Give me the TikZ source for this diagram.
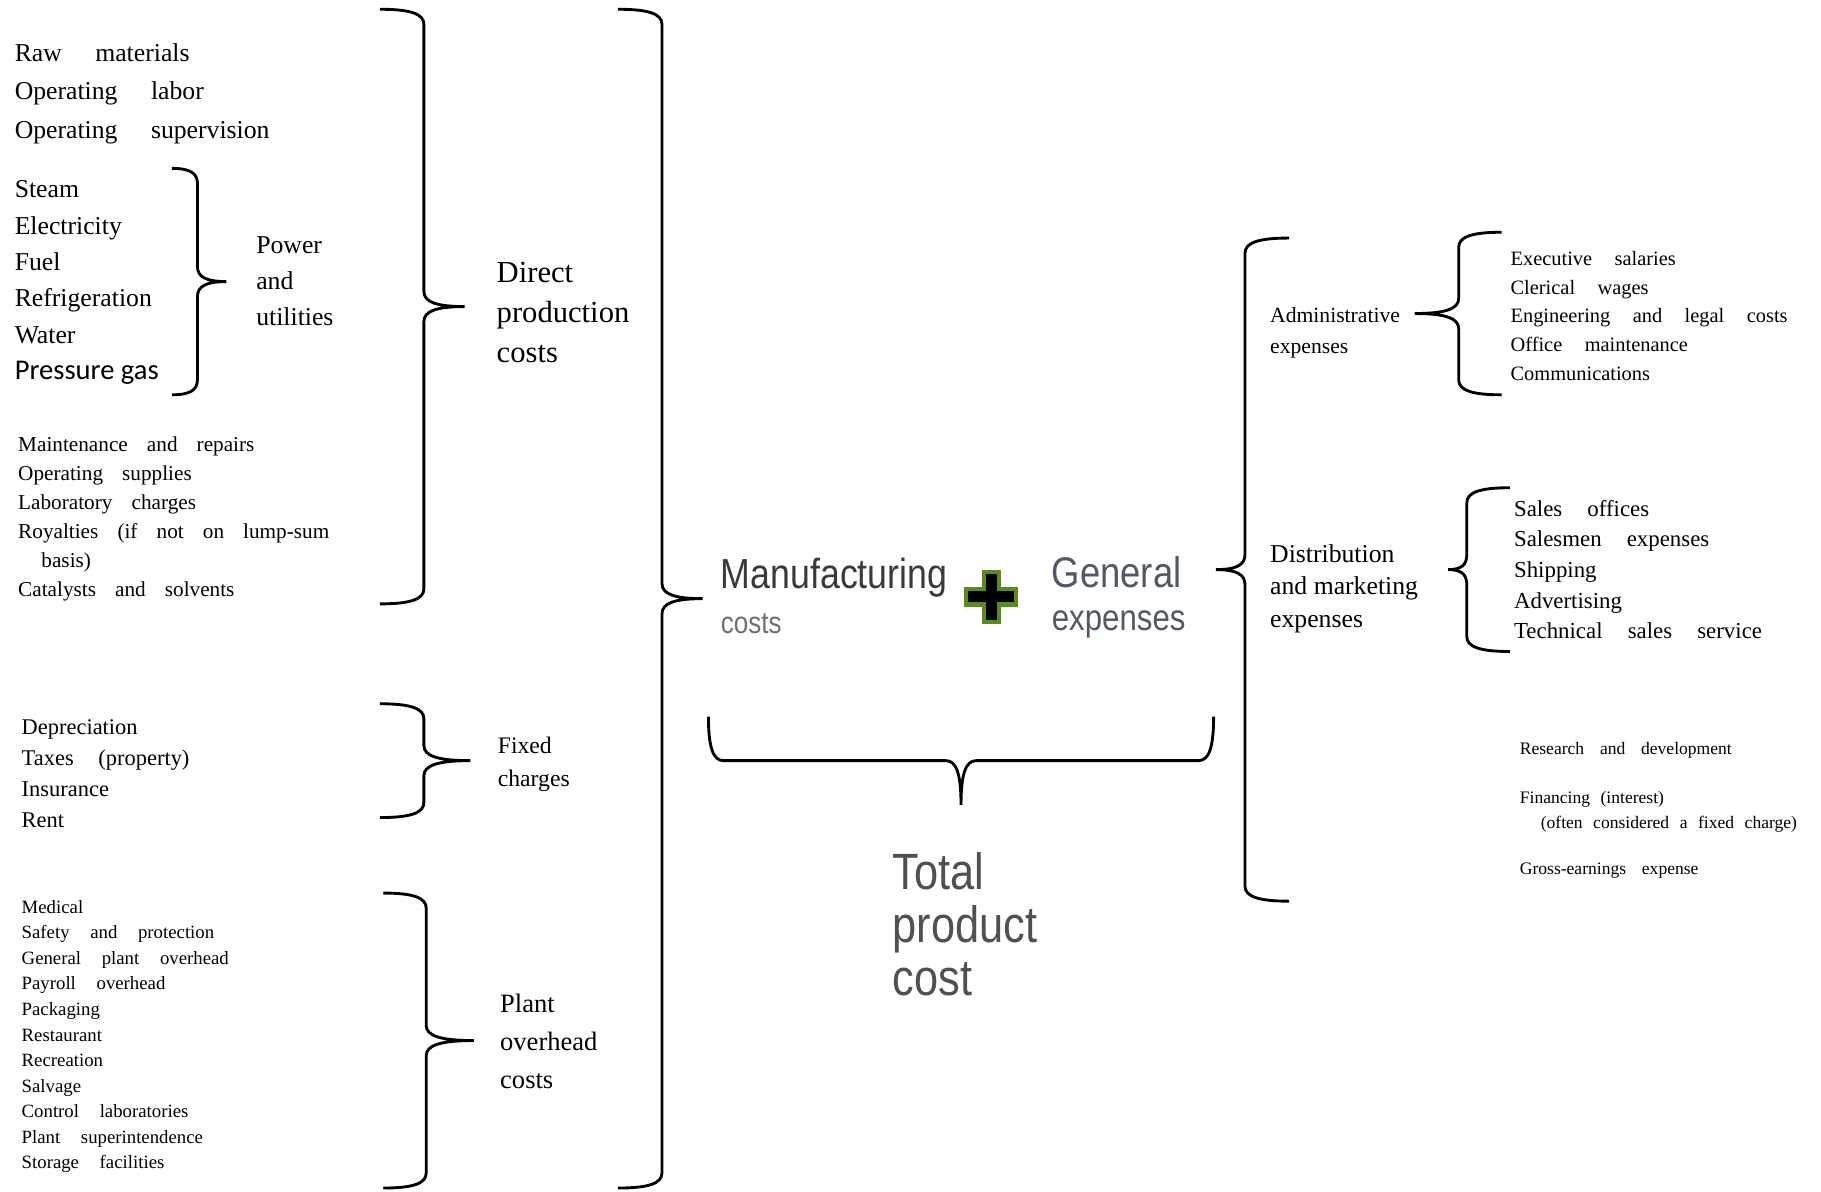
\documentclass[tikz,border=0pt]{standalone}
\usepackage{fontspec}
\setmainfont{Liberation Serif}
\newfontfamily\cali{Carlito}
\newfontfamily\narrow[FakeStretch=0.85]{Liberation Sans}
\usepackage{tikz}
\usetikzlibrary{positioning}
\definecolor{mfggray}{HTML}{3A3A3A}
\definecolor{softgray}{HTML}{707070}
\definecolor{genblue}{HTML}{4F5A66}
\definecolor{totgray}{HTML}{505050}
\definecolor{plusgreen}{HTML}{5B8A1F}
\newcommand{\lstfont}[3]{\fontsize{#1}{#2}\selectfont\spaceskip=#3em plus 0.5em\relax}

\begin{document}
\begin{tikzpicture}[
  lst/.style={anchor=north west,align=left,inner sep=0pt},
  lab/.style={anchor=north west,align=left,inner sep=0pt},
  big/.style={anchor=west,inner sep=0pt},
  brc/.style={line width=0.7pt},
  % brace drawn downwards from its upper end: length, hook width, tip width
  pics/curly/.style n args={3}{code={
    \draw[brc] (0,0) .. controls (0.7*#2,0) and (#2,-0.04) .. (#2,-0.13)
      -- (#2,-#1/2+0.13) .. controls (#2,-#1/2+0.04) and (#2+0.3*#3,-#1/2) .. (#2+#3,-#1/2)
      .. controls (#2+0.3*#3,-#1/2) and (#2,-#1/2-0.04) .. (#2,-#1/2-0.13)
      -- (#2,-#1+0.13) .. controls (#2,-#1+0.04) and (0.7*#2,-#1) .. (0,-#1);
  }}
]
  \useasboundingbox (0,0) rectangle (15.68,10.26);

  % direct production items
  \node[lst,font=\lstfont{6.3}{9.4}{1.3}] (rawlist) at (0.12,9.89)
    {Raw materials\\Operating labor\\Operating supervision};
  \node[lst,font=\lstfont{6.3}{8.9}{1.1}] (utillist) at (0.12,8.71)
    {Steam\\Electricity\\Fuel\\Refrigeration\\Water\\
     {\cali\fontsize{7}{8.9}\selectfont\spaceskip=0pt Pressure gas}};
  \node[lst,font=\lstfont{5.2}{7.1}{0.9}] (maintlist) at (0.15,6.505)
    {Maintenance and repairs\\Operating supplies\\Laboratory charges\\
     Royalties (if not on lump-sum\\\hspace*{0.2cm}basis)\\Catalysts and solvents};
  \node[lab,font=\fontsize{6.3}{8.8}\selectfont] (power) at (2.20,8.23)
    {Power\\and\\utilities};
  \node[lab,font=\fontsize{7.5}{9.7}\selectfont] (direct) at (4.27,8.005)
    {Direct\\production\\costs};

  % fixed charges
  \node[lst,font=\lstfont{5.5}{7.6}{1.1}] (fixlist) at (0.18,4.07)
    {Depreciation\\Taxes (property)\\Insurance\\Rent};
  \node[lab,font=\fontsize{5.8}{8}\selectfont] (fixed) at (4.28,3.92)
    {Fixed\\charges};

  % plant overhead
  \node[lst,font=\lstfont{4.6}{6.26}{1.1}] (ovhlist) at (0.18,2.515)
    {Medical\\Safety and protection\\General plant overhead\\Payroll overhead\\
     Packaging\\Restaurant\\Recreation\\Salvage\\Control laboratories\\
     Plant superintendence\\Storage facilities};
  \node[lab,font=\fontsize{6.5}{9.4}\selectfont] (plant) at (4.30,1.71)
    {Plant\\overhead\\costs};

  % middle
  \node[big,font=\narrow\fontsize{10.3}{12}\selectfont,text=mfggray] (mfg) at (6.20,5.29) {Manufacturing};
  \node[big,font=\narrow\fontsize{7.5}{9}\selectfont,text=softgray] (mfgc) at (6.20,4.89) {costs};
  \node[big,font=\narrow\fontsize{10.5}{12}\selectfont,text=genblue] (gen) at (9.05,5.33) {General};
  \node[big,font=\narrow\fontsize{9}{11}\selectfont,text=genblue] (genx) at (9.05,4.88) {expenses};
  \node[lab,font=\narrow\fontsize{12.5}{13.1}\selectfont,text=totgray] (total) at (7.68,2.93)
    {Total\\product\\cost};
  \filldraw[fill=black,draw=plusgreen,line width=1pt]
    (8.47,5.335) -- (8.60,5.335) -- (8.60,5.185) -- (8.75,5.185) -- (8.75,5.055)
    -- (8.60,5.055) -- (8.60,4.905) -- (8.47,4.905) -- (8.47,5.055) -- (8.32,5.055)
    -- (8.32,5.185) -- (8.47,5.185) -- cycle;

  % general expenses
  \node[lab,font=\fontsize{5.3}{7.4}\selectfont] (adm) at (10.93,7.615)
    {Administrative\\expenses};
  \node[lab,font=\fontsize{6.3}{8}\selectfont] (dist) at (10.93,5.58)
    {Distribution\\and marketing\\expenses};
  \node[lst,font=\lstfont{5}{7}{1.1}] (admlist) at (13.00,8.10)
    {Executive salaries\\Clerical wages\\Engineering and legal costs\\
     Office maintenance\\Communications};
  \node[lst,font=\lstfont{5.6}{7.5}{1.1}] (distlist) at (13.03,5.96)
    {Sales offices\\Salesmen expenses\\Shipping\\Advertising\\Technical sales service};
  \node[big,font=\lstfont{4.3}{6}{0.9}] (rd) at (13.08,3.80) {Research and development};
  \node[lst,font=\lstfont{4.3}{6}{0.6}] (fin) at (13.08,3.45)
    {Financing (interest)\\\hspace*{0.18cm}(often considered a fixed charge)};
  \node[big,font=\lstfont{4.3}{6}{0.9}] (gross) at (13.08,2.76) {Gross-earnings expense};

  % braces
  \coordinate (utilT) at (1.48,8.81);
  \coordinate (dirT) at (3.27,10.18);
  \coordinate (fixT) at (3.27,4.20);
  \coordinate (ovhT) at (3.30,2.57);
  \coordinate (mfgT) at (5.32,10.18);
  \coordinate (totR) at (10.45,4.09);
  \coordinate (genT) at (11.10,8.21);
  \coordinate (admT) at (12.93,8.26);
  \coordinate (distT) at (13.00,6.06);

  \pic at (utilT) {curly={1.95}{0.22}{0.25}};
  \pic at (dirT) {curly={5.12}{0.38}{0.35}};
  \pic at (fixT) {curly={0.98}{0.38}{0.40}};
  \pic at (ovhT) {curly={2.54}{0.37}{0.41}};
  \pic at (mfgT) {curly={10.15}{0.38}{0.35}};
  \pic[rotate=-90] at (totR) {curly={4.35}{0.38}{0.38}};
  \pic[xscale=-1] at (genT) {curly={5.71}{0.38}{0.25}};
  \pic[xscale=-1] at (admT) {curly={1.40}{0.37}{0.38}};
  \pic[xscale=-1] at (distT) {curly={1.41}{0.37}{0.16}};
\end{tikzpicture}
\end{document}
